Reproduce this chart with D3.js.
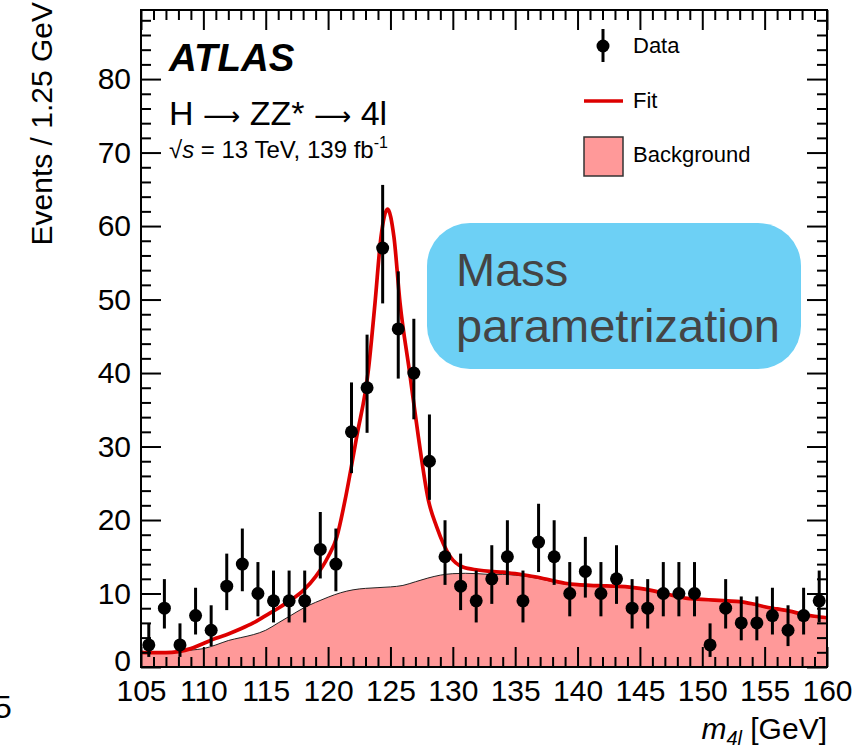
<!DOCTYPE html>
<html>
<head>
<meta charset="utf-8">
<script src="https://cdn.jsdelivr.net/npm/d3@7"></script>
<style>
  body { margin: 0; background: #fff; }
  svg { display: block; }
  text { font-family: "Liberation Sans", Arial, Helvetica, sans-serif; fill: #000; }
</style>
</head>
<body>
<svg id="chart" width="854" height="750"></svg>
<script>
// ---- Data: four-lepton invariant mass, 1.25 GeV bins ----
const binCenters = [105.625, 106.875, 108.125, 109.375, 110.625, 111.875, 113.125, 114.375,
  115.625, 116.875, 118.125, 119.375, 120.625, 121.875, 123.125, 124.375, 125.625, 126.875,
  128.125, 129.375, 130.625, 131.875, 133.125, 134.375, 135.625, 136.875, 138.125, 139.375,
  140.625, 141.875, 143.125, 144.375, 145.625, 146.875, 148.125, 149.375, 150.625, 151.875,
  153.125, 154.375, 155.625, 156.875, 158.125, 159.375];
const dataCounts = [3, 8, 3, 7, 5, 11, 14, 10, 9, 9, 9, 16, 14, 32, 38, 57, 46, 40, 28, 15,
  11, 9, 12, 15, 9, 17, 15, 10, 13, 10, 12, 8, 8, 10, 10, 10, 3, 8, 6, 6, 7, 5, 7, 9];

// Background model (events / 1.25 GeV)
const bkgMass = [105, 106, 107, 108, 109, 110, 111, 112, 113, 114, 115, 116, 117, 118, 119, 120,
  121, 122, 123, 124, 125, 126, 127, 128, 129, 130, 131, 132, 133, 134, 135, 136, 137, 138, 139,
  140, 141, 142, 143, 144, 145, 146, 147, 148, 149, 150, 151, 152, 153, 154, 155, 156, 157, 158,
  159, 160];
const bkgValue = [1.9, 1.95, 2.0, 2.1, 2.3, 2.5, 3.0, 3.6, 4.0, 4.4, 5.0, 6.0, 7.0, 8.0, 8.8, 9.5,
  10.1, 10.5, 10.7, 10.8, 10.9, 11.1, 11.6, 12.1, 12.5, 12.7, 12.75, 12.7, 12.6, 12.6, 12.5, 12.3,
  12.0, 11.6, 11.3, 11.1, 11.0, 11.0, 10.9, 10.8, 10.6, 10.3, 9.9, 9.5, 9.2, 9.1, 9.0, 8.9, 8.8,
  8.5, 8.1, 7.8, 7.5, 7.1, 6.8, 6.6];

// Signal + background fit
const fitMass = [105, 106, 107, 108, 109, 110, 111, 112, 113, 114, 115, 116, 117, 118, 119, 120,
  120.7, 121.36, 122.29, 123.23, 123.76, 124.24, 124.77, 125.28, 125.77, 126.51, 127.24, 128.04,
  128.7, 129.8, 130.8, 132, 133, 134, 135, 136, 137, 138, 139, 140, 141, 142, 143, 144, 145, 146,
  147, 148, 149, 150, 151, 152, 153, 154, 155, 156, 157, 158, 159, 160];
const fitValue = [2.0, 1.95, 1.95, 2.1, 2.5, 3.2, 3.9, 4.5, 5.2, 6.0, 7.0, 8.0, 9.1, 10.4, 12.3,
  15.0, 17.7, 22.7, 31.3, 40.4, 49.5, 58.5, 62.3, 58.5, 49.5, 40.4, 31.3, 22.7, 19.1, 15.0, 13.6,
  13.2, 13.0, 12.9, 12.7, 12.45, 12.15, 11.75, 11.4, 11.2, 11.1, 11.05, 11.0, 10.9, 10.7, 10.4,
  10.0, 9.6, 9.3, 9.2, 9.1, 9.0, 8.9, 8.6, 8.2, 7.9, 7.6, 7.2, 6.9, 6.7];

const xMajorTicks = [105, 110, 115, 120, 125, 130, 135, 140, 145, 150, 155, 160];
const yMajorTicks = [0, 10, 20, 30, 40, 50, 60, 70, 80];

// ---- Layout ----
const frame = { left: 141, right: 827, top: 10, bottom: 667 };
const svg = d3.select("#chart");

const x = d3.scaleLinear().domain([105, 160]).range([frame.left, frame.right]);
const y = d3.scaleLinear().domain([0, 89.4]).range([frame.bottom, frame.top]);

svg.append("defs").append("clipPath").attr("id", "plotClip")
  .append("rect").attr("x", frame.left).attr("y", frame.top)
  .attr("width", frame.right - frame.left).attr("height", frame.bottom - frame.top);

const plot = svg.append("g").attr("clip-path", "url(#plotClip)");

// Background
const bkg = bkgMass.map((m, i) => ({ m, v: bkgValue[i] }));
plot.append("path").datum(bkg)
  .attr("fill", "#ff9999")
  .attr("d", d3.area().curve(d3.curveMonotoneX).x(d => x(d.m)).y0(y(0)).y1(d => y(d.v)));
plot.append("path").datum(bkg)
  .attr("fill", "none").attr("stroke", "#222").attr("stroke-width", 1)
  .attr("d", d3.line().curve(d3.curveMonotoneX).x(d => x(d.m)).y(d => y(d.v)));

// Fit
const fit = fitMass.map((m, i) => ({ m, v: fitValue[i] }));
plot.append("path").datum(fit)
  .attr("fill", "none").attr("stroke", "#dd0000").attr("stroke-width", 3.7)
  .attr("stroke-linejoin", "round")
  .attr("d", d3.line().curve(d3.curveMonotoneX).x(d => x(d.m)).y(d => y(d.v)));

// Data with Poisson (Gehrels) uncertainties
function poissonUp(n) { return n + Math.sqrt(n + 0.75) + 1; }
function poissonLo(n) { return n === 0 ? 0 : n * Math.pow(1 - 1 / (9 * n) - 1 / (3 * Math.sqrt(n)), 3); }
const pts = binCenters.map((c, i) => ({ c, n: dataCounts[i] }));
const dataG = svg.append("g");
dataG.selectAll("line.err").data(pts).join("line")
  .attr("class", "err")
  .attr("x1", d => x(d.c)).attr("x2", d => x(d.c))
  .attr("y1", d => y(poissonLo(d.n))).attr("y2", d => y(poissonUp(d.n)))
  .attr("stroke", "#000").attr("stroke-width", 3);
dataG.selectAll("circle").data(pts).join("circle")
  .attr("cx", d => x(d.c)).attr("cy", d => y(d.n)).attr("r", 6.5).attr("fill", "#000");

// ---- Axes (ticks inside the frame, on all four sides) ----
const minorX = d3.range(105, 160.5, 1).filter(v => v % 5 !== 0);
const minorY = d3.range(0, 89, 2).filter(v => v % 10 !== 0);
const tickFont = 30;

function styleAxis(g) {
  g.select(".domain").remove();
  g.selectAll(".tick line").attr("stroke", "#000").attr("stroke-width", 2);
  g.selectAll(".tick text").style("font-size", tickFont + "px")
    .style("font-family", '"Liberation Sans", Arial, sans-serif');
}

svg.append("g").attr("transform", `translate(0,${frame.bottom})`)
  .call(d3.axisBottom(x).tickValues(xMajorTicks).tickFormat(d3.format("d")).tickSize(-20).tickPadding(13))
  .call(styleAxis);
svg.append("g").attr("transform", `translate(0,${frame.bottom})`)
  .call(d3.axisBottom(x).tickValues(minorX).tickFormat("").tickSize(-10))
  .call(styleAxis);
svg.append("g").attr("transform", `translate(0,${frame.top})`)
  .call(d3.axisTop(x).tickValues(xMajorTicks).tickFormat("").tickSize(-20))
  .call(styleAxis);
svg.append("g").attr("transform", `translate(0,${frame.top})`)
  .call(d3.axisTop(x).tickValues(minorX).tickFormat("").tickSize(-10))
  .call(styleAxis);

const yAxisG = svg.append("g").attr("transform", `translate(${frame.left},0)`)
  .call(d3.axisLeft(y).tickValues(yMajorTicks).tickFormat(d3.format("d")).tickSize(-20).tickPadding(10))
  .call(styleAxis);
// the zero label sits a little higher so it clears the x labels
yAxisG.selectAll(".tick text").filter(d => d === 0).attr("dy", "0.12em");
svg.append("g").attr("transform", `translate(${frame.left},0)`)
  .call(d3.axisLeft(y).tickValues(minorY).tickFormat("").tickSize(-10))
  .call(styleAxis);
svg.append("g").attr("transform", `translate(${frame.right},0)`)
  .call(d3.axisRight(y).tickValues(yMajorTicks).tickFormat("").tickSize(-20))
  .call(styleAxis);
svg.append("g").attr("transform", `translate(${frame.right},0)`)
  .call(d3.axisRight(y).tickValues(minorY).tickFormat("").tickSize(-10))
  .call(styleAxis);

// Frame
svg.append("rect")
  .attr("x", frame.left).attr("y", frame.top)
  .attr("width", frame.right - frame.left).attr("height", frame.bottom - frame.top)
  .attr("fill", "none").attr("stroke", "#000").attr("stroke-width", 2);

// Axis titles
svg.append("text")
  .attr("transform", `translate(52,2) rotate(-90)`)
  .attr("text-anchor", "end")
  .style("font-size", "30px")
  .text("Events / 1.25 GeV");

const xt = svg.append("text").attr("x", frame.right).attr("y", 739)
  .attr("text-anchor", "end").style("font-size", "30px");
xt.append("tspan").style("font-style", "italic").text("m");
xt.append("tspan").attr("dy", 6).style("font-size", "20px").style("font-style", "italic").text("4l");
xt.append("tspan").attr("dy", -6).text(" [GeV]");

// Label fragment at the lower-left edge
svg.append("text").attr("x", -6).attr("y", 718).style("font-size", "32px").text("5");

// ---- Labels ----
svg.append("text").attr("x", 169).attr("y", 71)
  .style("font-size", "38.5px").style("font-weight", "bold").style("font-style", "italic")
  .text("ATLAS");
const proc = svg.append("text").attr("x", 169).attr("y", 125).style("font-size", "34px");
proc.append("tspan").text("H ");
proc.append("tspan").style("font-family", '"DejaVu Sans", sans-serif').style("font-size", "26px").text("\u27F6");
proc.append("tspan").text(" ZZ* ");
proc.append("tspan").style("font-family", '"DejaVu Sans", sans-serif').style("font-size", "26px").text("\u27F6");
proc.append("tspan").text(" 4l");

const lumi = svg.append("text").attr("x", 169).attr("y", 158).style("font-size", "24px");
lumi.append("tspan").text("\u221A");
lumi.append("tspan").style("font-style", "italic").text("s");
lumi.append("tspan").text(" = 13 TeV, 139 fb");
lumi.append("tspan").attr("dy", -10).style("font-size", "16px").text("-1");

// ---- Legend ----
const leg = svg.append("g");
leg.append("line").attr("x1", 603).attr("x2", 603).attr("y1", 29).attr("y2", 62)
  .attr("stroke", "#000").attr("stroke-width", 3);
leg.append("circle").attr("cx", 603).attr("cy", 46).attr("r", 6.5).attr("fill", "#000");
leg.append("text").attr("x", 633).attr("y", 53).style("font-size", "22px").text("Data");
leg.append("line").attr("x1", 584).attr("x2", 623).attr("y1", 101).attr("y2", 101)
  .attr("stroke", "#dd0000").attr("stroke-width", 3.5);
leg.append("text").attr("x", 633).attr("y", 108).style("font-size", "22px").text("Fit");
leg.append("rect").attr("x", 584).attr("y", 137).attr("width", 39).attr("height", 39)
  .attr("fill", "#ff9999").attr("stroke", "#333").attr("stroke-width", 1.5);
leg.append("text").attr("x", 633).attr("y", 162).style("font-size", "22px").text("Background");

// ---- Annotation box ----
svg.append("rect").attr("x", 427).attr("y", 223).attr("width", 374).attr("height", 146)
  .attr("rx", 43).attr("ry", 43).attr("fill", "#6dd0f5");
svg.append("text").attr("x", 456).attr("y", 286).style("font-size", "47px").style("fill", "#444")
  .text("Mass");
svg.append("text").attr("x", 456).attr("y", 342).style("font-size", "47px").style("fill", "#444")
  .text("parametrization");
</script>
</body>
</html>
